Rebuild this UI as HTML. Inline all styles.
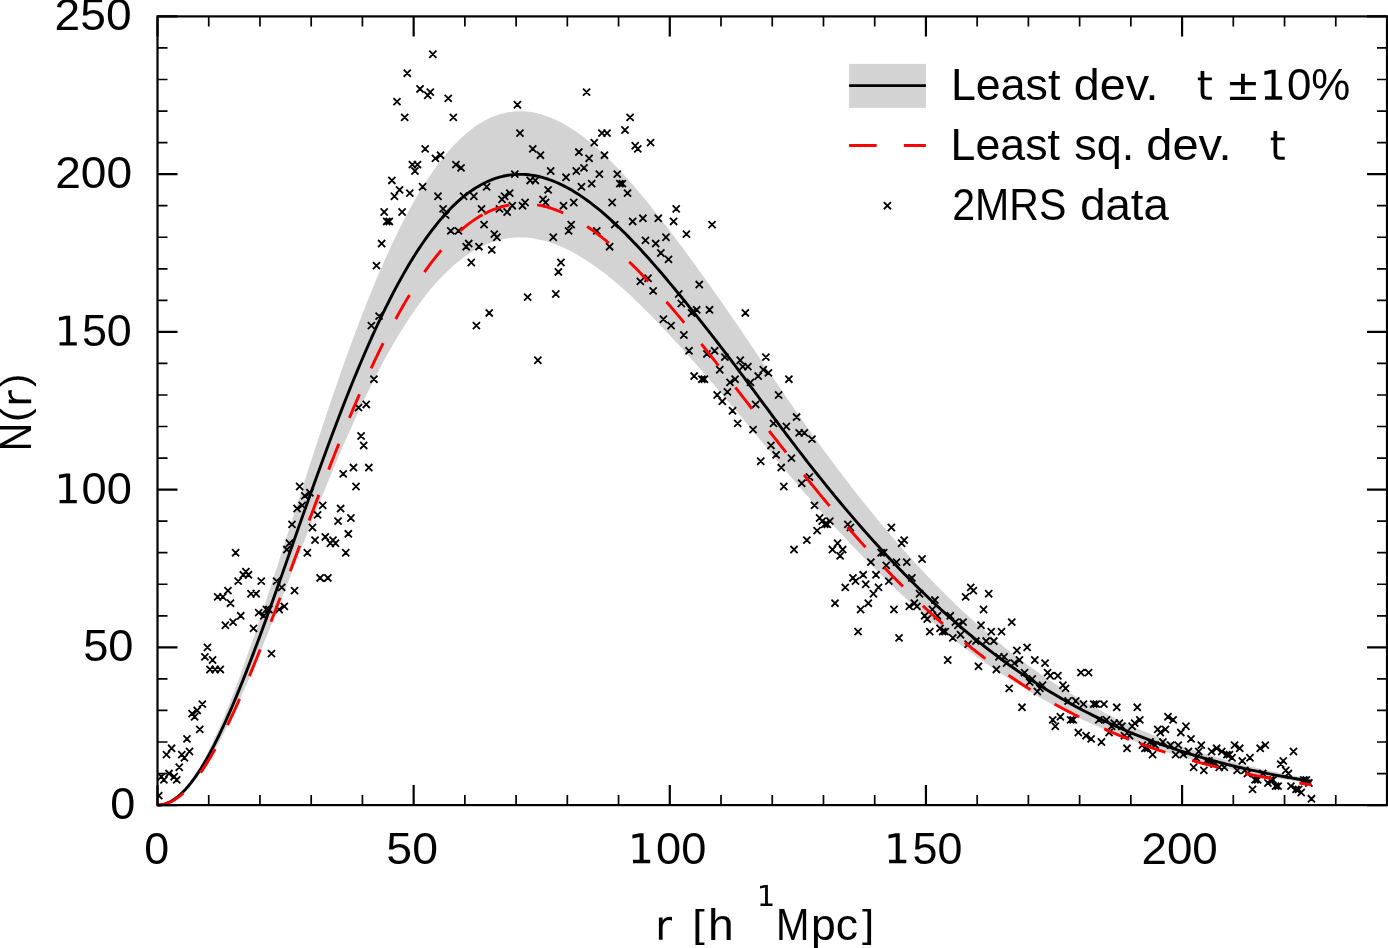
<!DOCTYPE html>
<html><head><meta charset="utf-8"><title>N(r)</title>
<style>
html,body{margin:0;padding:0;background:#fff;}
body{width:1388px;height:948px;overflow:hidden;}
svg{display:block;}
text{font-family:"Liberation Sans",sans-serif;fill:#000;}
</style></head><body>
<svg width="1388" height="948" viewBox="0 0 1388 948">
<rect x="0" y="0" width="1388" height="948" fill="#fff"/>
<defs><clipPath id="ax"><rect x="157.5" y="16.4" width="1229.5" height="788.7"/></clipPath></defs>
<polygon points="157.50,805.10 160.06,804.95 162.62,804.50 165.18,803.74 167.73,802.70 170.29,801.36 172.85,799.74 175.41,797.85 177.97,795.67 180.53,793.23 183.09,790.53 185.64,787.56 188.20,784.35 190.76,780.90 193.32,777.20 195.88,773.28 198.44,769.13 201.00,764.76 203.56,760.18 206.11,755.40 208.67,750.41 211.23,745.24 213.79,739.88 216.35,734.34 218.91,728.63 221.47,722.75 224.02,716.72 226.58,710.53 229.14,704.20 231.70,697.74 234.26,691.13 236.82,684.41 239.38,677.56 241.93,670.60 244.49,663.54 247.05,656.37 249.61,649.11 252.17,641.77 254.73,634.34 257.29,626.83 259.84,619.26 262.40,611.61 264.96,603.92 267.52,596.16 270.08,588.36 272.64,580.52 275.20,572.64 277.76,564.73 280.31,556.79 282.87,548.83 285.43,540.86 287.99,532.87 290.55,524.88 293.11,516.88 295.67,508.89 298.22,500.90 300.78,492.93 303.34,484.97 305.90,477.03 308.46,469.11 311.02,461.23 313.58,453.37 316.13,445.55 318.69,437.77 321.25,430.03 323.81,422.34 326.37,414.70 328.93,407.11 331.49,399.58 334.04,392.10 336.60,384.69 339.16,377.35 341.72,370.07 344.28,362.86 346.84,355.73 349.40,348.67 351.96,341.69 354.51,334.79 357.07,327.98 359.63,321.25 362.19,314.61 364.75,308.06 367.31,301.59 369.87,295.23 372.42,288.95 374.98,282.78 377.54,276.70 380.10,270.72 382.66,264.84 385.22,259.06 387.78,253.39 390.33,247.82 392.89,242.36 395.45,237.01 398.01,231.76 400.57,226.62 403.13,221.60 405.69,216.68 408.24,211.87 410.80,207.18 413.36,202.60 415.92,198.13 418.48,193.77 421.04,189.53 423.60,185.40 426.15,181.39 428.71,177.49 431.27,173.71 433.83,170.04 436.39,166.48 438.95,163.04 441.51,159.72 444.07,156.51 446.62,153.41 449.18,150.43 451.74,147.56 454.30,144.81 456.86,142.17 459.42,139.64 461.98,137.23 464.53,134.92 467.09,132.73 469.65,130.65 472.21,128.68 474.77,126.82 477.33,125.07 479.89,123.43 482.44,121.90 485.00,120.47 487.56,119.15 490.12,117.93 492.68,116.82 495.24,115.82 497.80,114.91 500.35,114.11 502.91,113.41 505.47,112.81 508.03,112.31 510.59,111.91 513.15,111.61 515.71,111.40 518.27,111.28 520.82,111.26 523.38,111.34 525.94,111.50 528.50,111.76 531.06,112.11 533.62,112.54 536.18,113.06 538.73,113.67 541.29,114.36 543.85,115.14 546.41,116.00 548.97,116.94 551.53,117.96 554.09,119.06 556.64,120.24 559.20,121.50 561.76,122.83 564.32,124.23 566.88,125.71 569.44,127.26 572.00,128.88 574.55,130.57 577.11,132.32 579.67,134.15 582.23,136.03 584.79,137.99 587.35,140.00 589.91,142.08 592.47,144.22 595.02,146.41 597.58,148.67 600.14,150.98 602.70,153.34 605.26,155.76 607.82,158.24 610.38,160.76 612.93,163.34 615.49,165.96 618.05,168.63 620.61,171.35 623.17,174.11 625.73,176.92 628.29,179.77 630.84,182.66 633.40,185.59 635.96,188.56 638.52,191.57 641.08,194.61 643.64,197.69 646.20,200.80 648.75,203.94 651.31,207.12 653.87,210.32 656.43,213.55 658.99,216.81 661.55,220.09 664.11,223.40 666.67,226.73 669.22,230.08 671.78,233.45 674.34,236.84 676.90,240.25 679.46,243.67 682.02,247.12 684.58,250.58 687.13,254.05 689.69,257.54 692.25,261.04 694.81,264.56 697.37,268.09 699.93,271.63 702.49,275.19 705.04,278.75 707.60,282.34 710.16,285.93 712.72,289.54 715.28,293.16 717.84,296.80 720.40,300.45 722.95,304.11 725.51,307.79 728.07,311.48 730.63,315.18 733.19,318.90 735.75,322.63 738.31,326.37 740.87,330.12 743.42,333.88 745.98,337.65 748.54,341.42 751.10,345.21 753.66,349.00 756.22,352.79 758.78,356.59 761.33,360.39 763.89,364.19 766.45,367.98 769.01,371.77 771.57,375.56 774.13,379.34 776.69,383.12 779.24,386.88 781.80,390.64 784.36,394.38 786.92,398.12 789.48,401.83 792.04,405.54 794.60,409.23 797.15,412.91 799.71,416.57 802.27,420.21 804.83,423.84 807.39,427.45 809.95,431.05 812.51,434.63 815.06,438.19 817.62,441.73 820.18,445.25 822.74,448.76 825.30,452.25 827.86,455.72 830.42,459.18 832.98,462.62 835.53,466.03 838.09,469.44 840.65,472.82 843.21,476.18 845.77,479.53 848.33,482.86 850.89,486.17 853.44,489.46 856.00,492.73 858.56,495.98 861.12,499.21 863.68,502.43 866.24,505.62 868.80,508.80 871.35,511.96 873.91,515.09 876.47,518.21 879.03,521.31 881.59,524.38 884.15,527.44 886.71,530.47 889.26,533.49 891.82,536.48 894.38,539.46 896.94,542.41 899.50,545.34 902.06,548.25 904.62,551.14 907.18,554.01 909.73,556.86 912.29,559.69 914.85,562.49 917.41,565.28 919.97,568.04 922.53,570.78 925.09,573.50 927.64,576.20 930.20,578.87 932.76,581.53 935.32,584.16 937.88,586.77 940.44,589.36 943.00,591.93 945.55,594.47 948.11,597.00 950.67,599.50 953.23,601.98 955.79,604.44 958.35,606.88 960.91,609.30 963.46,611.69 966.02,614.07 968.58,616.42 971.14,618.75 973.70,621.06 976.26,623.35 978.82,625.62 981.38,627.86 983.93,630.09 986.49,632.29 989.05,634.47 991.61,636.63 994.17,638.77 996.73,640.89 999.29,642.99 1001.84,645.07 1004.40,647.13 1006.96,649.17 1009.52,651.19 1012.08,653.18 1014.64,655.16 1017.20,657.12 1019.75,659.05 1022.31,660.97 1024.87,662.87 1027.43,664.74 1029.99,666.60 1032.55,668.44 1035.11,670.26 1037.66,672.05 1040.22,673.83 1042.78,675.60 1045.34,677.34 1047.90,679.06 1050.46,680.76 1053.02,682.45 1055.58,684.12 1058.13,685.77 1060.69,687.40 1063.25,689.01 1065.81,690.60 1068.37,692.18 1070.93,693.74 1073.49,695.28 1076.04,696.80 1078.60,698.31 1081.16,699.80 1083.72,701.27 1086.28,702.72 1088.84,704.16 1091.40,705.58 1093.95,706.98 1096.51,708.37 1099.07,709.74 1101.63,711.10 1104.19,712.43 1106.75,713.76 1109.31,715.06 1111.86,716.35 1114.42,717.63 1116.98,718.89 1119.54,720.13 1122.10,721.36 1124.66,722.58 1127.22,723.78 1129.78,724.96 1132.33,726.13 1134.89,727.28 1137.45,728.42 1140.01,729.55 1142.57,730.66 1145.13,731.76 1147.69,732.85 1150.24,733.92 1152.80,734.97 1155.36,736.02 1157.92,737.05 1160.48,738.06 1163.04,739.07 1165.60,740.06 1168.15,741.03 1170.71,742.00 1173.27,742.95 1175.83,743.89 1178.39,744.82 1180.95,745.73 1183.51,746.64 1186.06,747.53 1188.62,748.41 1191.18,749.27 1193.74,750.13 1196.30,750.97 1198.86,751.81 1201.42,752.63 1203.97,753.44 1206.53,754.24 1209.09,755.03 1211.65,755.80 1214.21,756.57 1216.77,757.33 1219.33,758.07 1221.89,758.81 1224.44,759.53 1227.00,760.25 1229.56,760.96 1232.12,761.65 1234.68,762.34 1237.24,763.01 1239.80,763.68 1242.35,764.34 1244.91,764.99 1247.47,765.62 1250.03,766.25 1252.59,766.88 1255.15,767.49 1257.71,768.09 1260.26,768.68 1262.82,769.27 1265.38,769.85 1267.94,770.42 1270.50,770.98 1273.06,771.53 1275.62,772.08 1278.17,772.61 1280.73,773.14 1283.29,773.66 1285.85,774.18 1288.41,774.68 1290.97,775.18 1293.53,775.67 1296.09,776.16 1298.64,776.63 1301.20,777.10 1303.76,777.56 1306.32,778.02 1308.88,778.47 1311.44,778.91 1311.44,783.67 1308.88,783.31 1306.32,782.94 1303.76,782.57 1301.20,782.19 1298.64,781.81 1296.09,781.42 1293.53,781.02 1290.97,780.62 1288.41,780.21 1285.85,779.80 1283.29,779.38 1280.73,778.95 1278.17,778.52 1275.62,778.08 1273.06,777.63 1270.50,777.18 1267.94,776.72 1265.38,776.26 1262.82,775.79 1260.26,775.31 1257.71,774.82 1255.15,774.33 1252.59,773.83 1250.03,773.32 1247.47,772.80 1244.91,772.28 1242.35,771.75 1239.80,771.21 1237.24,770.67 1234.68,770.11 1232.12,769.55 1229.56,768.98 1227.00,768.40 1224.44,767.82 1221.89,767.23 1219.33,766.62 1216.77,766.01 1214.21,765.39 1211.65,764.77 1209.09,764.13 1206.53,763.48 1203.97,762.83 1201.42,762.17 1198.86,761.50 1196.30,760.81 1193.74,760.12 1191.18,759.42 1188.62,758.71 1186.06,757.99 1183.51,757.27 1180.95,756.53 1178.39,755.78 1175.83,755.02 1173.27,754.25 1170.71,753.47 1168.15,752.68 1165.60,751.88 1163.04,751.07 1160.48,750.25 1157.92,749.42 1155.36,748.58 1152.80,747.72 1150.24,746.86 1147.69,745.98 1145.13,745.10 1142.57,744.20 1140.01,743.29 1137.45,742.37 1134.89,741.43 1132.33,740.49 1129.78,739.53 1127.22,738.56 1124.66,737.58 1122.10,736.59 1119.54,735.58 1116.98,734.56 1114.42,733.53 1111.86,732.49 1109.31,731.43 1106.75,730.36 1104.19,729.28 1101.63,728.19 1099.07,727.08 1096.51,725.96 1093.95,724.82 1091.40,723.67 1088.84,722.51 1086.28,721.34 1083.72,720.15 1081.16,718.94 1078.60,717.72 1076.04,716.49 1073.49,715.25 1070.93,713.98 1068.37,712.71 1065.81,711.42 1063.25,710.12 1060.69,708.80 1058.13,707.46 1055.58,706.11 1053.02,704.75 1050.46,703.37 1047.90,701.98 1045.34,700.57 1042.78,699.14 1040.22,697.70 1037.66,696.24 1035.11,694.77 1032.55,693.29 1029.99,691.78 1027.43,690.26 1024.87,688.73 1022.31,687.17 1019.75,685.61 1017.20,684.02 1014.64,682.42 1012.08,680.80 1009.52,679.17 1006.96,677.52 1004.40,675.85 1001.84,674.17 999.29,672.47 996.73,670.75 994.17,669.02 991.61,667.26 989.05,665.50 986.49,663.71 983.93,661.91 981.38,660.09 978.82,658.25 976.26,656.39 973.70,654.52 971.14,652.63 968.58,650.72 966.02,648.80 963.46,646.86 960.91,644.90 958.35,642.92 955.79,640.93 953.23,638.91 950.67,636.88 948.11,634.84 945.55,632.77 943.00,630.69 940.44,628.59 937.88,626.47 935.32,624.33 932.76,622.18 930.20,620.00 927.64,617.81 925.09,615.61 922.53,613.38 919.97,611.14 917.41,608.88 914.85,606.60 912.29,604.31 909.73,601.99 907.18,599.66 904.62,597.32 902.06,594.95 899.50,592.57 896.94,590.17 894.38,587.76 891.82,585.32 889.26,582.87 886.71,580.41 884.15,577.92 881.59,575.42 879.03,572.90 876.47,570.37 873.91,567.82 871.35,565.25 868.80,562.67 866.24,560.07 863.68,557.46 861.12,554.83 858.56,552.18 856.00,549.52 853.44,546.85 850.89,544.15 848.33,541.45 845.77,538.72 843.21,535.99 840.65,533.23 838.09,530.47 835.53,527.68 832.98,524.89 830.42,522.07 827.86,519.25 825.30,516.41 822.74,513.55 820.18,510.68 817.62,507.80 815.06,504.90 812.51,501.98 809.95,499.06 807.39,496.12 804.83,493.16 802.27,490.19 799.71,487.21 797.15,484.22 794.60,481.21 792.04,478.19 789.48,475.16 786.92,472.11 784.36,469.06 781.80,466.00 779.24,462.92 776.69,459.84 774.13,456.75 771.57,453.66 769.01,450.56 766.45,447.46 763.89,444.35 761.33,441.24 758.78,438.14 756.22,435.03 753.66,431.93 751.10,428.83 748.54,425.73 745.98,422.64 743.42,419.55 740.87,416.48 738.31,413.41 735.75,410.35 733.19,407.30 730.63,404.26 728.07,401.23 725.51,398.21 722.95,395.20 720.40,392.20 717.84,389.22 715.28,386.24 712.72,383.28 710.16,380.33 707.60,377.38 705.04,374.45 702.49,371.53 699.93,368.62 697.37,365.73 694.81,362.84 692.25,359.96 689.69,357.09 687.13,354.24 684.58,351.40 682.02,348.57 679.46,345.75 676.90,342.95 674.34,340.16 671.78,337.38 669.22,334.63 666.67,331.88 664.11,329.16 661.55,326.46 658.99,323.77 656.43,321.10 653.87,318.46 651.31,315.84 648.75,313.24 646.20,310.67 643.64,308.13 641.08,305.61 638.52,303.12 635.96,300.66 633.40,298.23 630.84,295.83 628.29,293.47 625.73,291.14 623.17,288.84 620.61,286.58 618.05,284.35 615.49,282.17 612.93,280.02 610.38,277.91 607.82,275.85 605.26,273.83 602.70,271.85 600.14,269.91 597.58,268.02 595.02,266.17 592.47,264.38 589.91,262.63 587.35,260.93 584.79,259.28 582.23,257.68 579.67,256.14 577.11,254.65 574.55,253.21 572.00,251.83 569.44,250.50 566.88,249.23 564.32,248.03 561.76,246.88 559.20,245.79 556.64,244.76 554.09,243.80 551.53,242.90 548.97,242.06 546.41,241.29 543.85,240.59 541.29,239.95 538.73,239.38 536.18,238.89 533.62,238.46 531.06,238.10 528.50,237.82 525.94,237.61 523.38,237.48 520.82,237.42 518.27,237.43 515.71,237.52 513.15,237.70 510.59,237.94 508.03,238.27 505.47,238.68 502.91,239.17 500.35,239.75 497.80,240.40 495.24,241.14 492.68,241.96 490.12,242.87 487.56,243.87 485.00,244.95 482.44,246.11 479.89,247.37 477.33,248.71 474.77,250.15 472.21,251.67 469.65,253.28 467.09,254.98 464.53,256.77 461.98,258.66 459.42,260.63 456.86,262.70 454.30,264.86 451.74,267.11 449.18,269.46 446.62,271.90 444.07,274.43 441.51,277.06 438.95,279.78 436.39,282.60 433.83,285.50 431.27,288.51 428.71,291.60 426.15,294.79 423.60,298.08 421.04,301.45 418.48,304.92 415.92,308.49 413.36,312.14 410.80,315.89 408.24,319.73 405.69,323.67 403.13,327.69 400.57,331.80 398.01,336.01 395.45,340.30 392.89,344.68 390.33,349.15 387.78,353.70 385.22,358.34 382.66,363.07 380.10,367.88 377.54,372.77 374.98,377.74 372.42,382.80 369.87,387.93 367.31,393.14 364.75,398.43 362.19,403.79 359.63,409.22 357.07,414.73 354.51,420.30 351.96,425.95 349.40,431.66 346.84,437.43 344.28,443.27 341.72,449.16 339.16,455.12 336.60,461.13 334.04,467.19 331.49,473.31 328.93,479.47 326.37,485.68 323.81,491.93 321.25,498.22 318.69,504.56 316.13,510.92 313.58,517.32 311.02,523.75 308.46,530.20 305.90,536.68 303.34,543.17 300.78,549.69 298.22,556.21 295.67,562.75 293.11,569.29 290.55,575.83 287.99,582.37 285.43,588.90 282.87,595.43 280.31,601.94 277.76,608.43 275.20,614.91 272.64,621.35 270.08,627.77 267.52,634.15 264.96,640.49 262.40,646.79 259.84,653.05 257.29,659.24 254.73,665.38 252.17,671.46 249.61,677.48 247.05,683.41 244.49,689.28 241.93,695.06 239.38,700.75 236.82,706.35 234.26,711.86 231.70,717.26 229.14,722.55 226.58,727.73 224.02,732.79 221.47,737.73 218.91,742.53 216.35,747.20 213.79,751.74 211.23,756.12 208.67,760.36 206.11,764.43 203.56,768.35 201.00,772.10 198.44,775.67 195.88,779.06 193.32,782.28 190.76,785.30 188.20,788.13 185.64,790.75 183.09,793.18 180.53,795.39 177.97,797.39 175.41,799.16 172.85,800.72 170.29,802.04 167.73,803.14 165.18,803.99 162.62,804.61 160.06,804.98 157.50,805.10" fill="#d3d3d3" stroke="none"/>
<g clip-path="url(#ax)"><path d="M155.23,792.09l7.1,7.1m-7.1,0l7.1,-7.1M157.79,773.16l7.1,7.1m-7.1,0l7.1,-7.1M160.35,776.31l7.1,7.1m-7.1,0l7.1,-7.1M162.92,751.07l7.1,7.1m-7.1,0l7.1,-7.1M165.48,770.00l7.1,7.1m-7.1,0l7.1,-7.1M168.04,744.76l7.1,7.1m-7.1,0l7.1,-7.1M170.60,773.16l7.1,7.1m-7.1,0l7.1,-7.1M173.16,776.31l7.1,7.1m-7.1,0l7.1,-7.1M175.72,763.69l7.1,7.1m-7.1,0l7.1,-7.1M178.28,751.07l7.1,7.1m-7.1,0l7.1,-7.1M180.85,754.23l7.1,7.1m-7.1,0l7.1,-7.1M183.41,735.30l7.1,7.1m-7.1,0l7.1,-7.1M185.97,747.92l7.1,7.1m-7.1,0l7.1,-7.1M188.53,710.06l7.1,7.1m-7.1,0l7.1,-7.1M191.09,713.22l7.1,7.1m-7.1,0l7.1,-7.1M193.65,706.91l7.1,7.1m-7.1,0l7.1,-7.1M196.21,725.83l7.1,7.1m-7.1,0l7.1,-7.1M198.78,700.60l7.1,7.1m-7.1,0l7.1,-7.1M201.34,653.27l7.1,7.1m-7.1,0l7.1,-7.1M203.90,643.81l7.1,7.1m-7.1,0l7.1,-7.1M206.46,665.89l7.1,7.1m-7.1,0l7.1,-7.1M209.02,656.43l7.1,7.1m-7.1,0l7.1,-7.1M211.58,665.89l7.1,7.1m-7.1,0l7.1,-7.1M214.14,593.33l7.1,7.1m-7.1,0l7.1,-7.1M216.71,665.89l7.1,7.1m-7.1,0l7.1,-7.1M219.27,593.33l7.1,7.1m-7.1,0l7.1,-7.1M221.83,621.73l7.1,7.1m-7.1,0l7.1,-7.1M224.39,587.02l7.1,7.1m-7.1,0l7.1,-7.1M226.95,599.64l7.1,7.1m-7.1,0l7.1,-7.1M229.51,618.57l7.1,7.1m-7.1,0l7.1,-7.1M232.07,549.17l7.1,7.1m-7.1,0l7.1,-7.1M234.64,577.56l7.1,7.1m-7.1,0l7.1,-7.1M237.20,612.26l7.1,7.1m-7.1,0l7.1,-7.1M239.76,571.25l7.1,7.1m-7.1,0l7.1,-7.1M242.32,568.09l7.1,7.1m-7.1,0l7.1,-7.1M244.88,571.25l7.1,7.1m-7.1,0l7.1,-7.1M247.44,590.18l7.1,7.1m-7.1,0l7.1,-7.1M250.00,624.88l7.1,7.1m-7.1,0l7.1,-7.1M252.57,590.18l7.1,7.1m-7.1,0l7.1,-7.1M255.13,609.11l7.1,7.1m-7.1,0l7.1,-7.1M257.69,577.56l7.1,7.1m-7.1,0l7.1,-7.1M260.25,612.26l7.1,7.1m-7.1,0l7.1,-7.1M262.81,605.95l7.1,7.1m-7.1,0l7.1,-7.1M265.37,605.95l7.1,7.1m-7.1,0l7.1,-7.1M267.93,650.12l7.1,7.1m-7.1,0l7.1,-7.1M273.06,577.56l7.1,7.1m-7.1,0l7.1,-7.1M275.62,605.95l7.1,7.1m-7.1,0l7.1,-7.1M278.18,583.87l7.1,7.1m-7.1,0l7.1,-7.1M280.74,602.80l7.1,7.1m-7.1,0l7.1,-7.1M283.30,546.01l7.1,7.1m-7.1,0l7.1,-7.1M285.87,539.70l7.1,7.1m-7.1,0l7.1,-7.1M288.43,520.77l7.1,7.1m-7.1,0l7.1,-7.1M290.99,587.02l7.1,7.1m-7.1,0l7.1,-7.1M293.55,505.00l7.1,7.1m-7.1,0l7.1,-7.1M296.11,482.92l7.1,7.1m-7.1,0l7.1,-7.1M298.67,501.84l7.1,7.1m-7.1,0l7.1,-7.1M301.23,492.38l7.1,7.1m-7.1,0l7.1,-7.1M303.80,549.17l7.1,7.1m-7.1,0l7.1,-7.1M306.36,489.22l7.1,7.1m-7.1,0l7.1,-7.1M308.92,523.93l7.1,7.1m-7.1,0l7.1,-7.1M311.48,536.55l7.1,7.1m-7.1,0l7.1,-7.1M314.04,511.31l7.1,7.1m-7.1,0l7.1,-7.1M316.60,574.40l7.1,7.1m-7.1,0l7.1,-7.1M319.16,501.84l7.1,7.1m-7.1,0l7.1,-7.1M321.73,533.39l7.1,7.1m-7.1,0l7.1,-7.1M324.29,574.40l7.1,7.1m-7.1,0l7.1,-7.1M326.85,539.70l7.1,7.1m-7.1,0l7.1,-7.1M329.41,536.55l7.1,7.1m-7.1,0l7.1,-7.1M331.97,539.70l7.1,7.1m-7.1,0l7.1,-7.1M334.53,517.62l7.1,7.1m-7.1,0l7.1,-7.1M337.09,505.00l7.1,7.1m-7.1,0l7.1,-7.1M339.66,470.30l7.1,7.1m-7.1,0l7.1,-7.1M342.22,549.17l7.1,7.1m-7.1,0l7.1,-7.1M344.78,530.24l7.1,7.1m-7.1,0l7.1,-7.1M347.34,514.46l7.1,7.1m-7.1,0l7.1,-7.1M349.90,463.99l7.1,7.1m-7.1,0l7.1,-7.1M352.46,482.92l7.1,7.1m-7.1,0l7.1,-7.1M355.02,404.05l7.1,7.1m-7.1,0l7.1,-7.1M357.59,432.44l7.1,7.1m-7.1,0l7.1,-7.1M360.15,441.90l7.1,7.1m-7.1,0l7.1,-7.1M362.71,400.89l7.1,7.1m-7.1,0l7.1,-7.1M365.27,463.99l7.1,7.1m-7.1,0l7.1,-7.1M367.83,322.02l7.1,7.1m-7.1,0l7.1,-7.1M370.39,375.65l7.1,7.1m-7.1,0l7.1,-7.1M372.95,262.08l7.1,7.1m-7.1,0l7.1,-7.1M375.52,312.56l7.1,7.1m-7.1,0l7.1,-7.1M378.08,240.00l7.1,7.1m-7.1,0l7.1,-7.1M380.64,208.45l7.1,7.1m-7.1,0l7.1,-7.1M383.20,217.91l7.1,7.1m-7.1,0l7.1,-7.1M385.76,217.91l7.1,7.1m-7.1,0l7.1,-7.1M388.32,176.90l7.1,7.1m-7.1,0l7.1,-7.1M390.88,192.67l7.1,7.1m-7.1,0l7.1,-7.1M393.45,98.03l7.1,7.1m-7.1,0l7.1,-7.1M396.01,186.36l7.1,7.1m-7.1,0l7.1,-7.1M398.57,208.45l7.1,7.1m-7.1,0l7.1,-7.1M401.13,113.80l7.1,7.1m-7.1,0l7.1,-7.1M403.69,69.64l7.1,7.1m-7.1,0l7.1,-7.1M406.25,189.52l7.1,7.1m-7.1,0l7.1,-7.1M408.82,161.13l7.1,7.1m-7.1,0l7.1,-7.1M411.38,167.44l7.1,7.1m-7.1,0l7.1,-7.1M413.94,161.13l7.1,7.1m-7.1,0l7.1,-7.1M416.50,85.41l7.1,7.1m-7.1,0l7.1,-7.1M419.06,183.21l7.1,7.1m-7.1,0l7.1,-7.1M421.62,145.35l7.1,7.1m-7.1,0l7.1,-7.1M424.18,91.72l7.1,7.1m-7.1,0l7.1,-7.1M426.75,88.57l7.1,7.1m-7.1,0l7.1,-7.1M429.31,50.71l7.1,7.1m-7.1,0l7.1,-7.1M431.87,154.82l7.1,7.1m-7.1,0l7.1,-7.1M434.43,192.67l7.1,7.1m-7.1,0l7.1,-7.1M436.99,151.66l7.1,7.1m-7.1,0l7.1,-7.1M439.55,205.29l7.1,7.1m-7.1,0l7.1,-7.1M442.11,211.60l7.1,7.1m-7.1,0l7.1,-7.1M444.68,94.87l7.1,7.1m-7.1,0l7.1,-7.1M447.24,227.38l7.1,7.1m-7.1,0l7.1,-7.1M449.80,113.80l7.1,7.1m-7.1,0l7.1,-7.1M452.36,161.13l7.1,7.1m-7.1,0l7.1,-7.1M454.92,227.38l7.1,7.1m-7.1,0l7.1,-7.1M457.48,164.28l7.1,7.1m-7.1,0l7.1,-7.1M460.04,192.67l7.1,7.1m-7.1,0l7.1,-7.1M462.61,243.15l7.1,7.1m-7.1,0l7.1,-7.1M465.17,240.00l7.1,7.1m-7.1,0l7.1,-7.1M467.73,258.92l7.1,7.1m-7.1,0l7.1,-7.1M470.29,192.67l7.1,7.1m-7.1,0l7.1,-7.1M472.85,322.02l7.1,7.1m-7.1,0l7.1,-7.1M475.41,243.15l7.1,7.1m-7.1,0l7.1,-7.1M477.97,205.29l7.1,7.1m-7.1,0l7.1,-7.1M480.54,221.07l7.1,7.1m-7.1,0l7.1,-7.1M483.10,183.21l7.1,7.1m-7.1,0l7.1,-7.1M485.66,309.40l7.1,7.1m-7.1,0l7.1,-7.1M488.22,246.31l7.1,7.1m-7.1,0l7.1,-7.1M490.78,230.53l7.1,7.1m-7.1,0l7.1,-7.1M493.34,233.69l7.1,7.1m-7.1,0l7.1,-7.1M495.90,205.29l7.1,7.1m-7.1,0l7.1,-7.1M498.47,195.83l7.1,7.1m-7.1,0l7.1,-7.1M501.03,192.67l7.1,7.1m-7.1,0l7.1,-7.1M503.59,208.45l7.1,7.1m-7.1,0l7.1,-7.1M506.15,189.52l7.1,7.1m-7.1,0l7.1,-7.1M508.71,202.14l7.1,7.1m-7.1,0l7.1,-7.1M511.27,170.59l7.1,7.1m-7.1,0l7.1,-7.1M513.83,101.18l7.1,7.1m-7.1,0l7.1,-7.1M516.40,129.58l7.1,7.1m-7.1,0l7.1,-7.1M518.96,202.14l7.1,7.1m-7.1,0l7.1,-7.1M521.52,198.98l7.1,7.1m-7.1,0l7.1,-7.1M524.08,293.63l7.1,7.1m-7.1,0l7.1,-7.1M526.64,176.90l7.1,7.1m-7.1,0l7.1,-7.1M529.20,145.35l7.1,7.1m-7.1,0l7.1,-7.1M531.77,176.90l7.1,7.1m-7.1,0l7.1,-7.1M534.33,356.72l7.1,7.1m-7.1,0l7.1,-7.1M536.89,151.66l7.1,7.1m-7.1,0l7.1,-7.1M539.45,195.83l7.1,7.1m-7.1,0l7.1,-7.1M542.01,198.98l7.1,7.1m-7.1,0l7.1,-7.1M544.57,186.36l7.1,7.1m-7.1,0l7.1,-7.1M547.13,167.44l7.1,7.1m-7.1,0l7.1,-7.1M549.70,233.69l7.1,7.1m-7.1,0l7.1,-7.1M552.26,290.47l7.1,7.1m-7.1,0l7.1,-7.1M554.82,268.39l7.1,7.1m-7.1,0l7.1,-7.1M557.38,258.92l7.1,7.1m-7.1,0l7.1,-7.1M559.94,202.14l7.1,7.1m-7.1,0l7.1,-7.1M562.50,173.74l7.1,7.1m-7.1,0l7.1,-7.1M565.06,227.38l7.1,7.1m-7.1,0l7.1,-7.1M567.63,221.07l7.1,7.1m-7.1,0l7.1,-7.1M570.19,198.98l7.1,7.1m-7.1,0l7.1,-7.1M572.75,167.44l7.1,7.1m-7.1,0l7.1,-7.1M575.31,148.51l7.1,7.1m-7.1,0l7.1,-7.1M577.87,183.21l7.1,7.1m-7.1,0l7.1,-7.1M580.43,164.28l7.1,7.1m-7.1,0l7.1,-7.1M582.99,88.57l7.1,7.1m-7.1,0l7.1,-7.1M585.56,154.82l7.1,7.1m-7.1,0l7.1,-7.1M588.12,180.05l7.1,7.1m-7.1,0l7.1,-7.1M590.68,139.04l7.1,7.1m-7.1,0l7.1,-7.1M593.24,227.38l7.1,7.1m-7.1,0l7.1,-7.1M595.80,170.59l7.1,7.1m-7.1,0l7.1,-7.1M598.36,129.58l7.1,7.1m-7.1,0l7.1,-7.1M600.92,151.66l7.1,7.1m-7.1,0l7.1,-7.1M603.49,129.58l7.1,7.1m-7.1,0l7.1,-7.1M606.05,243.15l7.1,7.1m-7.1,0l7.1,-7.1M608.61,198.98l7.1,7.1m-7.1,0l7.1,-7.1M611.17,221.07l7.1,7.1m-7.1,0l7.1,-7.1M613.73,170.59l7.1,7.1m-7.1,0l7.1,-7.1M616.29,180.05l7.1,7.1m-7.1,0l7.1,-7.1M618.85,180.05l7.1,7.1m-7.1,0l7.1,-7.1M621.42,126.42l7.1,7.1m-7.1,0l7.1,-7.1M623.98,189.52l7.1,7.1m-7.1,0l7.1,-7.1M626.54,113.80l7.1,7.1m-7.1,0l7.1,-7.1M629.10,217.91l7.1,7.1m-7.1,0l7.1,-7.1M631.66,142.20l7.1,7.1m-7.1,0l7.1,-7.1M634.22,145.35l7.1,7.1m-7.1,0l7.1,-7.1M636.78,277.85l7.1,7.1m-7.1,0l7.1,-7.1M639.35,214.76l7.1,7.1m-7.1,0l7.1,-7.1M641.91,236.84l7.1,7.1m-7.1,0l7.1,-7.1M644.47,274.70l7.1,7.1m-7.1,0l7.1,-7.1M647.03,139.04l7.1,7.1m-7.1,0l7.1,-7.1M649.59,287.32l7.1,7.1m-7.1,0l7.1,-7.1M652.15,240.00l7.1,7.1m-7.1,0l7.1,-7.1M654.72,214.76l7.1,7.1m-7.1,0l7.1,-7.1M657.28,249.46l7.1,7.1m-7.1,0l7.1,-7.1M659.84,315.71l7.1,7.1m-7.1,0l7.1,-7.1M662.40,233.69l7.1,7.1m-7.1,0l7.1,-7.1M664.96,255.77l7.1,7.1m-7.1,0l7.1,-7.1M667.52,322.02l7.1,7.1m-7.1,0l7.1,-7.1M670.08,217.91l7.1,7.1m-7.1,0l7.1,-7.1M672.65,205.29l7.1,7.1m-7.1,0l7.1,-7.1M675.21,290.47l7.1,7.1m-7.1,0l7.1,-7.1M677.77,299.94l7.1,7.1m-7.1,0l7.1,-7.1M680.33,331.48l7.1,7.1m-7.1,0l7.1,-7.1M682.89,230.53l7.1,7.1m-7.1,0l7.1,-7.1M685.45,347.26l7.1,7.1m-7.1,0l7.1,-7.1M688.01,309.40l7.1,7.1m-7.1,0l7.1,-7.1M690.58,372.50l7.1,7.1m-7.1,0l7.1,-7.1M693.14,306.25l7.1,7.1m-7.1,0l7.1,-7.1M695.70,281.01l7.1,7.1m-7.1,0l7.1,-7.1M698.26,375.65l7.1,7.1m-7.1,0l7.1,-7.1M700.82,375.65l7.1,7.1m-7.1,0l7.1,-7.1M703.38,350.41l7.1,7.1m-7.1,0l7.1,-7.1M705.94,306.25l7.1,7.1m-7.1,0l7.1,-7.1M708.51,221.07l7.1,7.1m-7.1,0l7.1,-7.1M711.07,347.26l7.1,7.1m-7.1,0l7.1,-7.1M713.63,391.43l7.1,7.1m-7.1,0l7.1,-7.1M716.19,366.19l7.1,7.1m-7.1,0l7.1,-7.1M718.75,397.74l7.1,7.1m-7.1,0l7.1,-7.1M721.31,353.57l7.1,7.1m-7.1,0l7.1,-7.1M723.87,388.27l7.1,7.1m-7.1,0l7.1,-7.1M726.44,378.81l7.1,7.1m-7.1,0l7.1,-7.1M729.00,407.20l7.1,7.1m-7.1,0l7.1,-7.1M731.56,375.65l7.1,7.1m-7.1,0l7.1,-7.1M734.12,419.82l7.1,7.1m-7.1,0l7.1,-7.1M736.68,356.72l7.1,7.1m-7.1,0l7.1,-7.1M739.24,363.03l7.1,7.1m-7.1,0l7.1,-7.1M741.80,309.40l7.1,7.1m-7.1,0l7.1,-7.1M744.37,363.03l7.1,7.1m-7.1,0l7.1,-7.1M746.93,378.81l7.1,7.1m-7.1,0l7.1,-7.1M749.49,426.13l7.1,7.1m-7.1,0l7.1,-7.1M752.05,400.89l7.1,7.1m-7.1,0l7.1,-7.1M754.61,372.50l7.1,7.1m-7.1,0l7.1,-7.1M757.17,457.68l7.1,7.1m-7.1,0l7.1,-7.1M759.73,366.19l7.1,7.1m-7.1,0l7.1,-7.1M762.30,353.57l7.1,7.1m-7.1,0l7.1,-7.1M764.86,369.34l7.1,7.1m-7.1,0l7.1,-7.1M767.42,441.90l7.1,7.1m-7.1,0l7.1,-7.1M769.98,419.82l7.1,7.1m-7.1,0l7.1,-7.1M772.54,451.37l7.1,7.1m-7.1,0l7.1,-7.1M775.10,391.43l7.1,7.1m-7.1,0l7.1,-7.1M777.67,463.99l7.1,7.1m-7.1,0l7.1,-7.1M780.23,482.92l7.1,7.1m-7.1,0l7.1,-7.1M782.79,422.97l7.1,7.1m-7.1,0l7.1,-7.1M785.35,375.65l7.1,7.1m-7.1,0l7.1,-7.1M787.91,454.52l7.1,7.1m-7.1,0l7.1,-7.1M790.47,546.01l7.1,7.1m-7.1,0l7.1,-7.1M793.03,413.51l7.1,7.1m-7.1,0l7.1,-7.1M795.60,429.28l7.1,7.1m-7.1,0l7.1,-7.1M798.16,479.76l7.1,7.1m-7.1,0l7.1,-7.1M800.72,429.28l7.1,7.1m-7.1,0l7.1,-7.1M803.28,536.55l7.1,7.1m-7.1,0l7.1,-7.1M805.84,473.45l7.1,7.1m-7.1,0l7.1,-7.1M808.40,435.59l7.1,7.1m-7.1,0l7.1,-7.1M810.96,501.84l7.1,7.1m-7.1,0l7.1,-7.1M813.53,527.08l7.1,7.1m-7.1,0l7.1,-7.1M816.09,514.46l7.1,7.1m-7.1,0l7.1,-7.1M818.65,517.62l7.1,7.1m-7.1,0l7.1,-7.1M821.21,520.77l7.1,7.1m-7.1,0l7.1,-7.1M823.77,520.77l7.1,7.1m-7.1,0l7.1,-7.1M826.33,517.62l7.1,7.1m-7.1,0l7.1,-7.1M828.89,546.01l7.1,7.1m-7.1,0l7.1,-7.1M831.46,599.64l7.1,7.1m-7.1,0l7.1,-7.1M834.02,539.70l7.1,7.1m-7.1,0l7.1,-7.1M836.58,552.32l7.1,7.1m-7.1,0l7.1,-7.1M839.14,546.01l7.1,7.1m-7.1,0l7.1,-7.1M841.70,583.87l7.1,7.1m-7.1,0l7.1,-7.1M844.26,520.77l7.1,7.1m-7.1,0l7.1,-7.1M846.82,523.93l7.1,7.1m-7.1,0l7.1,-7.1M849.39,574.40l7.1,7.1m-7.1,0l7.1,-7.1M851.95,577.56l7.1,7.1m-7.1,0l7.1,-7.1M854.51,628.04l7.1,7.1m-7.1,0l7.1,-7.1M857.07,605.95l7.1,7.1m-7.1,0l7.1,-7.1M859.63,571.25l7.1,7.1m-7.1,0l7.1,-7.1M862.19,580.71l7.1,7.1m-7.1,0l7.1,-7.1M864.75,599.64l7.1,7.1m-7.1,0l7.1,-7.1M867.32,558.63l7.1,7.1m-7.1,0l7.1,-7.1M869.88,590.18l7.1,7.1m-7.1,0l7.1,-7.1M872.44,571.25l7.1,7.1m-7.1,0l7.1,-7.1M875.00,583.87l7.1,7.1m-7.1,0l7.1,-7.1M877.56,549.17l7.1,7.1m-7.1,0l7.1,-7.1M880.12,549.17l7.1,7.1m-7.1,0l7.1,-7.1M882.68,561.79l7.1,7.1m-7.1,0l7.1,-7.1M885.25,577.56l7.1,7.1m-7.1,0l7.1,-7.1M887.81,523.93l7.1,7.1m-7.1,0l7.1,-7.1M890.37,605.95l7.1,7.1m-7.1,0l7.1,-7.1M892.93,558.63l7.1,7.1m-7.1,0l7.1,-7.1M895.49,634.35l7.1,7.1m-7.1,0l7.1,-7.1M898.05,539.70l7.1,7.1m-7.1,0l7.1,-7.1M900.62,536.55l7.1,7.1m-7.1,0l7.1,-7.1M903.18,558.63l7.1,7.1m-7.1,0l7.1,-7.1M905.74,602.80l7.1,7.1m-7.1,0l7.1,-7.1M908.30,574.40l7.1,7.1m-7.1,0l7.1,-7.1M910.86,599.64l7.1,7.1m-7.1,0l7.1,-7.1M913.42,602.80l7.1,7.1m-7.1,0l7.1,-7.1M915.98,590.18l7.1,7.1m-7.1,0l7.1,-7.1M918.55,555.48l7.1,7.1m-7.1,0l7.1,-7.1M921.11,612.26l7.1,7.1m-7.1,0l7.1,-7.1M923.67,615.42l7.1,7.1m-7.1,0l7.1,-7.1M926.23,628.04l7.1,7.1m-7.1,0l7.1,-7.1M928.79,605.95l7.1,7.1m-7.1,0l7.1,-7.1M931.35,596.49l7.1,7.1m-7.1,0l7.1,-7.1M933.91,612.26l7.1,7.1m-7.1,0l7.1,-7.1M936.48,624.88l7.1,7.1m-7.1,0l7.1,-7.1M939.04,628.04l7.1,7.1m-7.1,0l7.1,-7.1M941.60,628.04l7.1,7.1m-7.1,0l7.1,-7.1M944.16,656.43l7.1,7.1m-7.1,0l7.1,-7.1M946.72,612.26l7.1,7.1m-7.1,0l7.1,-7.1M949.28,634.35l7.1,7.1m-7.1,0l7.1,-7.1M951.84,618.57l7.1,7.1m-7.1,0l7.1,-7.1M954.41,621.73l7.1,7.1m-7.1,0l7.1,-7.1M956.97,631.19l7.1,7.1m-7.1,0l7.1,-7.1M959.53,618.57l7.1,7.1m-7.1,0l7.1,-7.1M962.09,593.33l7.1,7.1m-7.1,0l7.1,-7.1M964.65,640.66l7.1,7.1m-7.1,0l7.1,-7.1M967.21,583.87l7.1,7.1m-7.1,0l7.1,-7.1M969.77,587.02l7.1,7.1m-7.1,0l7.1,-7.1M972.34,637.50l7.1,7.1m-7.1,0l7.1,-7.1M974.90,662.74l7.1,7.1m-7.1,0l7.1,-7.1M977.46,621.73l7.1,7.1m-7.1,0l7.1,-7.1M980.02,605.95l7.1,7.1m-7.1,0l7.1,-7.1M982.58,637.50l7.1,7.1m-7.1,0l7.1,-7.1M985.14,590.18l7.1,7.1m-7.1,0l7.1,-7.1M987.70,628.04l7.1,7.1m-7.1,0l7.1,-7.1M990.27,637.50l7.1,7.1m-7.1,0l7.1,-7.1M992.83,665.89l7.1,7.1m-7.1,0l7.1,-7.1M995.39,653.27l7.1,7.1m-7.1,0l7.1,-7.1M997.95,628.04l7.1,7.1m-7.1,0l7.1,-7.1M1000.51,653.27l7.1,7.1m-7.1,0l7.1,-7.1M1003.07,659.58l7.1,7.1m-7.1,0l7.1,-7.1M1005.63,684.82l7.1,7.1m-7.1,0l7.1,-7.1M1008.20,618.57l7.1,7.1m-7.1,0l7.1,-7.1M1010.76,659.58l7.1,7.1m-7.1,0l7.1,-7.1M1013.32,646.96l7.1,7.1m-7.1,0l7.1,-7.1M1015.88,656.43l7.1,7.1m-7.1,0l7.1,-7.1M1018.44,703.75l7.1,7.1m-7.1,0l7.1,-7.1M1021.00,669.05l7.1,7.1m-7.1,0l7.1,-7.1M1023.57,643.81l7.1,7.1m-7.1,0l7.1,-7.1M1026.13,678.51l7.1,7.1m-7.1,0l7.1,-7.1M1028.69,675.36l7.1,7.1m-7.1,0l7.1,-7.1M1031.25,656.43l7.1,7.1m-7.1,0l7.1,-7.1M1033.81,687.98l7.1,7.1m-7.1,0l7.1,-7.1M1036.37,684.82l7.1,7.1m-7.1,0l7.1,-7.1M1038.93,681.67l7.1,7.1m-7.1,0l7.1,-7.1M1041.50,659.58l7.1,7.1m-7.1,0l7.1,-7.1M1044.06,669.05l7.1,7.1m-7.1,0l7.1,-7.1M1046.62,672.20l7.1,7.1m-7.1,0l7.1,-7.1M1049.18,716.37l7.1,7.1m-7.1,0l7.1,-7.1M1051.74,722.68l7.1,7.1m-7.1,0l7.1,-7.1M1054.30,672.20l7.1,7.1m-7.1,0l7.1,-7.1M1056.86,713.22l7.1,7.1m-7.1,0l7.1,-7.1M1059.43,681.67l7.1,7.1m-7.1,0l7.1,-7.1M1061.99,684.82l7.1,7.1m-7.1,0l7.1,-7.1M1064.55,697.44l7.1,7.1m-7.1,0l7.1,-7.1M1067.11,716.37l7.1,7.1m-7.1,0l7.1,-7.1M1069.67,716.37l7.1,7.1m-7.1,0l7.1,-7.1M1072.23,697.44l7.1,7.1m-7.1,0l7.1,-7.1M1074.79,728.99l7.1,7.1m-7.1,0l7.1,-7.1M1077.36,669.05l7.1,7.1m-7.1,0l7.1,-7.1M1079.92,700.60l7.1,7.1m-7.1,0l7.1,-7.1M1082.48,732.14l7.1,7.1m-7.1,0l7.1,-7.1M1085.04,669.05l7.1,7.1m-7.1,0l7.1,-7.1M1087.60,735.30l7.1,7.1m-7.1,0l7.1,-7.1M1090.16,700.60l7.1,7.1m-7.1,0l7.1,-7.1M1092.72,700.60l7.1,7.1m-7.1,0l7.1,-7.1M1095.29,716.37l7.1,7.1m-7.1,0l7.1,-7.1M1097.85,738.45l7.1,7.1m-7.1,0l7.1,-7.1M1100.41,700.60l7.1,7.1m-7.1,0l7.1,-7.1M1102.97,716.37l7.1,7.1m-7.1,0l7.1,-7.1M1105.53,728.99l7.1,7.1m-7.1,0l7.1,-7.1M1108.09,722.68l7.1,7.1m-7.1,0l7.1,-7.1M1110.65,719.53l7.1,7.1m-7.1,0l7.1,-7.1M1113.22,703.75l7.1,7.1m-7.1,0l7.1,-7.1M1115.78,719.53l7.1,7.1m-7.1,0l7.1,-7.1M1118.34,722.68l7.1,7.1m-7.1,0l7.1,-7.1M1120.90,732.14l7.1,7.1m-7.1,0l7.1,-7.1M1123.46,744.76l7.1,7.1m-7.1,0l7.1,-7.1M1126.02,732.14l7.1,7.1m-7.1,0l7.1,-7.1M1128.58,722.68l7.1,7.1m-7.1,0l7.1,-7.1M1131.15,719.53l7.1,7.1m-7.1,0l7.1,-7.1M1133.71,703.75l7.1,7.1m-7.1,0l7.1,-7.1M1136.27,716.37l7.1,7.1m-7.1,0l7.1,-7.1M1138.83,741.61l7.1,7.1m-7.1,0l7.1,-7.1M1141.39,744.76l7.1,7.1m-7.1,0l7.1,-7.1M1143.95,744.76l7.1,7.1m-7.1,0l7.1,-7.1M1146.52,738.45l7.1,7.1m-7.1,0l7.1,-7.1M1149.08,751.07l7.1,7.1m-7.1,0l7.1,-7.1M1151.64,741.61l7.1,7.1m-7.1,0l7.1,-7.1M1154.20,725.83l7.1,7.1m-7.1,0l7.1,-7.1M1156.76,728.99l7.1,7.1m-7.1,0l7.1,-7.1M1159.32,738.45l7.1,7.1m-7.1,0l7.1,-7.1M1161.88,725.83l7.1,7.1m-7.1,0l7.1,-7.1M1164.45,713.22l7.1,7.1m-7.1,0l7.1,-7.1M1167.01,741.61l7.1,7.1m-7.1,0l7.1,-7.1M1169.57,716.37l7.1,7.1m-7.1,0l7.1,-7.1M1172.13,751.07l7.1,7.1m-7.1,0l7.1,-7.1M1174.69,741.61l7.1,7.1m-7.1,0l7.1,-7.1M1177.25,728.99l7.1,7.1m-7.1,0l7.1,-7.1M1179.81,751.07l7.1,7.1m-7.1,0l7.1,-7.1M1182.38,722.68l7.1,7.1m-7.1,0l7.1,-7.1M1184.94,747.92l7.1,7.1m-7.1,0l7.1,-7.1M1187.50,735.30l7.1,7.1m-7.1,0l7.1,-7.1M1190.06,763.69l7.1,7.1m-7.1,0l7.1,-7.1M1192.62,754.23l7.1,7.1m-7.1,0l7.1,-7.1M1195.18,747.92l7.1,7.1m-7.1,0l7.1,-7.1M1197.74,741.61l7.1,7.1m-7.1,0l7.1,-7.1M1200.31,766.85l7.1,7.1m-7.1,0l7.1,-7.1M1202.87,757.38l7.1,7.1m-7.1,0l7.1,-7.1M1205.43,757.38l7.1,7.1m-7.1,0l7.1,-7.1M1207.99,747.92l7.1,7.1m-7.1,0l7.1,-7.1M1210.55,760.54l7.1,7.1m-7.1,0l7.1,-7.1M1213.11,744.76l7.1,7.1m-7.1,0l7.1,-7.1M1215.67,763.69l7.1,7.1m-7.1,0l7.1,-7.1M1218.24,747.92l7.1,7.1m-7.1,0l7.1,-7.1M1220.80,763.69l7.1,7.1m-7.1,0l7.1,-7.1M1223.36,751.07l7.1,7.1m-7.1,0l7.1,-7.1M1225.92,751.07l7.1,7.1m-7.1,0l7.1,-7.1M1228.48,754.23l7.1,7.1m-7.1,0l7.1,-7.1M1231.04,741.61l7.1,7.1m-7.1,0l7.1,-7.1M1233.60,766.85l7.1,7.1m-7.1,0l7.1,-7.1M1236.17,744.76l7.1,7.1m-7.1,0l7.1,-7.1M1238.73,757.38l7.1,7.1m-7.1,0l7.1,-7.1M1241.29,766.85l7.1,7.1m-7.1,0l7.1,-7.1M1243.85,770.00l7.1,7.1m-7.1,0l7.1,-7.1M1246.41,754.23l7.1,7.1m-7.1,0l7.1,-7.1M1248.97,785.78l7.1,7.1m-7.1,0l7.1,-7.1M1251.53,776.31l7.1,7.1m-7.1,0l7.1,-7.1M1254.10,776.31l7.1,7.1m-7.1,0l7.1,-7.1M1256.66,744.76l7.1,7.1m-7.1,0l7.1,-7.1M1259.22,770.00l7.1,7.1m-7.1,0l7.1,-7.1M1261.78,741.61l7.1,7.1m-7.1,0l7.1,-7.1M1264.34,779.47l7.1,7.1m-7.1,0l7.1,-7.1M1266.90,776.31l7.1,7.1m-7.1,0l7.1,-7.1M1269.47,776.31l7.1,7.1m-7.1,0l7.1,-7.1M1272.03,782.62l7.1,7.1m-7.1,0l7.1,-7.1M1274.59,782.62l7.1,7.1m-7.1,0l7.1,-7.1M1277.15,760.54l7.1,7.1m-7.1,0l7.1,-7.1M1279.71,757.38l7.1,7.1m-7.1,0l7.1,-7.1M1282.27,766.85l7.1,7.1m-7.1,0l7.1,-7.1M1284.83,770.00l7.1,7.1m-7.1,0l7.1,-7.1M1287.40,782.62l7.1,7.1m-7.1,0l7.1,-7.1M1289.96,747.92l7.1,7.1m-7.1,0l7.1,-7.1M1292.52,785.78l7.1,7.1m-7.1,0l7.1,-7.1M1295.08,785.78l7.1,7.1m-7.1,0l7.1,-7.1M1297.64,788.93l7.1,7.1m-7.1,0l7.1,-7.1M1300.20,776.31l7.1,7.1m-7.1,0l7.1,-7.1M1302.76,776.31l7.1,7.1m-7.1,0l7.1,-7.1M1305.33,779.47l7.1,7.1m-7.1,0l7.1,-7.1M1307.89,795.24l7.1,7.1m-7.1,0l7.1,-7.1" stroke="#000" stroke-width="1.8" fill="none"/></g>
<polyline points="157.50,805.10 160.06,804.96 162.62,804.55 165.18,803.87 167.73,802.92 170.29,801.70 172.85,800.23 175.41,798.50 177.97,796.53 180.53,794.31 183.09,791.85 185.64,789.16 188.20,786.24 190.76,783.10 193.32,779.74 195.88,776.17 198.44,772.40 201.00,768.43 203.56,764.26 206.11,759.91 208.67,755.38 211.23,750.68 213.79,745.81 216.35,740.77 218.91,735.58 221.47,730.24 224.02,724.75 226.58,719.13 229.14,713.38 231.70,707.50 234.26,701.49 236.82,695.38 239.38,689.16 241.93,682.83 244.49,676.41 247.05,669.89 249.61,663.29 252.17,656.62 254.73,649.86 257.29,643.04 259.84,636.15 262.40,629.20 264.96,622.20 267.52,615.16 270.08,608.07 272.64,600.94 275.20,593.77 277.76,586.58 280.31,579.37 282.87,572.13 285.43,564.88 287.99,557.62 290.55,550.35 293.11,543.08 295.67,535.82 298.22,528.56 300.78,521.31 303.34,514.07 305.90,506.85 308.46,499.66 311.02,492.49 313.58,485.35 316.13,478.24 318.69,471.16 321.25,464.13 323.81,457.13 326.37,450.19 328.93,443.29 331.49,436.44 334.04,429.65 336.60,422.91 339.16,416.23 341.72,409.62 344.28,403.06 346.84,396.58 349.40,390.16 351.96,383.82 354.51,377.55 357.07,371.35 359.63,365.24 362.19,359.20 364.75,353.24 367.31,347.37 369.87,341.58 372.42,335.87 374.98,330.26 377.54,324.73 380.10,319.30 382.66,313.95 385.22,308.70 387.78,303.55 390.33,298.49 392.89,293.52 395.45,288.65 398.01,283.88 400.57,279.21 403.13,274.64 405.69,270.17 408.24,265.80 410.80,261.54 413.36,257.37 415.92,253.31 418.48,249.35 421.04,245.49 423.60,241.74 426.15,238.09 428.71,234.55 431.27,231.11 433.83,227.77 436.39,224.54 438.95,221.41 441.51,218.39 444.07,215.47 446.62,212.66 449.18,209.95 451.74,207.34 454.30,204.84 456.86,202.43 459.42,200.14 461.98,197.94 464.53,195.85 467.09,193.86 469.65,191.96 472.21,190.17 474.77,188.48 477.33,186.89 479.89,185.40 482.44,184.01 485.00,182.71 487.56,181.51 490.12,180.40 492.68,179.39 495.24,178.48 497.80,177.66 500.35,176.93 502.91,176.29 505.47,175.75 508.03,175.29 510.59,174.93 513.15,174.65 515.71,174.46 518.27,174.36 520.82,174.34 523.38,174.41 525.94,174.56 528.50,174.79 531.06,175.10 533.62,175.50 536.18,175.97 538.73,176.53 541.29,177.16 543.85,177.86 546.41,178.65 548.97,179.50 551.53,180.43 554.09,181.43 556.64,182.50 559.20,183.64 561.76,184.85 564.32,186.13 566.88,187.47 569.44,188.88 572.00,190.35 574.55,191.89 577.11,193.48 579.67,195.14 582.23,196.86 584.79,198.63 587.35,200.47 589.91,202.35 592.47,204.30 595.02,206.29 597.58,208.34 600.14,210.44 602.70,212.60 605.26,214.80 607.82,217.04 610.38,219.34 612.93,221.68 615.49,224.06 618.05,226.49 620.61,228.96 623.17,231.48 625.73,234.03 628.29,236.62 630.84,239.25 633.40,241.91 635.96,244.61 638.52,247.35 641.08,250.11 643.64,252.91 646.20,255.74 648.75,258.59 651.31,261.48 653.87,264.39 656.43,267.33 658.99,270.29 661.55,273.27 664.11,276.28 666.67,279.30 669.22,282.35 671.78,285.42 674.34,288.50 676.90,291.60 679.46,294.71 682.02,297.84 684.58,300.99 687.13,304.14 689.69,307.32 692.25,310.50 694.81,313.70 697.37,316.91 699.93,320.13 702.49,323.36 705.04,326.60 707.60,329.86 710.16,333.13 712.72,336.41 715.28,339.70 717.84,343.01 720.40,346.33 722.95,349.66 725.51,353.00 728.07,356.35 730.63,359.72 733.19,363.10 735.75,366.49 738.31,369.89 740.87,373.30 743.42,376.72 745.98,380.14 748.54,383.58 751.10,387.02 753.66,390.46 756.22,393.91 758.78,397.36 761.33,400.82 763.89,404.27 766.45,407.72 769.01,411.17 771.57,414.61 774.13,418.05 776.69,421.48 779.24,424.90 781.80,428.32 784.36,431.72 786.92,435.11 789.48,438.49 792.04,441.86 794.60,445.22 797.15,448.56 799.71,451.89 802.27,455.20 804.83,458.50 807.39,461.78 809.95,465.05 812.51,468.30 815.06,471.54 817.62,474.76 820.18,477.97 822.74,481.16 825.30,484.33 827.86,487.49 830.42,490.63 832.98,493.75 835.53,496.86 838.09,499.95 840.65,503.03 843.21,506.08 845.77,509.13 848.33,512.15 850.89,515.16 853.44,518.15 856.00,521.13 858.56,524.08 861.12,527.02 863.68,529.94 866.24,532.85 868.80,535.74 871.35,538.61 873.91,541.46 876.47,544.29 879.03,547.10 881.59,549.90 884.15,552.68 886.71,555.44 889.26,558.18 891.82,560.90 894.38,563.61 896.94,566.29 899.50,568.96 902.06,571.60 904.62,574.23 907.18,576.84 909.73,579.43 912.29,582.00 914.85,584.55 917.41,587.08 919.97,589.59 922.53,592.08 925.09,594.55 927.64,597.00 930.20,599.44 932.76,601.85 935.32,604.24 937.88,606.62 940.44,608.97 943.00,611.31 945.55,613.62 948.11,615.92 950.67,618.19 953.23,620.45 955.79,622.68 958.35,624.90 960.91,627.10 963.46,629.28 966.02,631.43 968.58,633.57 971.14,635.69 973.70,637.79 976.26,639.87 978.82,641.93 981.38,643.97 983.93,646.00 986.49,648.00 989.05,649.98 991.61,651.95 994.17,653.89 996.73,655.82 999.29,657.73 1001.84,659.62 1004.40,661.49 1006.96,663.34 1009.52,665.18 1012.08,666.99 1014.64,668.79 1017.20,670.57 1019.75,672.33 1022.31,674.07 1024.87,675.80 1027.43,677.50 1029.99,679.19 1032.55,680.86 1035.11,682.51 1037.66,684.15 1040.22,685.77 1042.78,687.37 1045.34,688.95 1047.90,690.52 1050.46,692.07 1053.02,693.60 1055.58,695.12 1058.13,696.61 1060.69,698.10 1063.25,699.56 1065.81,701.01 1068.37,702.44 1070.93,703.86 1073.49,705.26 1076.04,706.65 1078.60,708.02 1081.16,709.37 1083.72,710.71 1086.28,712.03 1088.84,713.33 1091.40,714.63 1093.95,715.90 1096.51,717.16 1099.07,718.41 1101.63,719.64 1104.19,720.86 1106.75,722.06 1109.31,723.25 1111.86,724.42 1114.42,725.58 1116.98,726.73 1119.54,727.86 1122.10,728.97 1124.66,730.08 1127.22,731.17 1129.78,732.24 1132.33,733.31 1134.89,734.36 1137.45,735.40 1140.01,736.42 1142.57,737.43 1145.13,738.43 1147.69,739.41 1150.24,740.39 1152.80,741.35 1155.36,742.30 1157.92,743.23 1160.48,744.16 1163.04,745.07 1165.60,745.97 1168.15,746.86 1170.71,747.73 1173.27,748.60 1175.83,749.45 1178.39,750.30 1180.95,751.13 1183.51,751.95 1186.06,752.76 1188.62,753.56 1191.18,754.35 1193.74,755.13 1196.30,755.89 1198.86,756.65 1201.42,757.40 1203.97,758.13 1206.53,758.86 1209.09,759.58 1211.65,760.28 1214.21,760.98 1216.77,761.67 1219.33,762.35 1221.89,763.02 1224.44,763.68 1227.00,764.33 1229.56,764.97 1232.12,765.60 1234.68,766.22 1237.24,766.84 1239.80,767.45 1242.35,768.04 1244.91,768.63 1247.47,769.21 1250.03,769.79 1252.59,770.35 1255.15,770.91 1257.71,771.45 1260.26,772.00 1262.82,772.53 1265.38,773.05 1267.94,773.57 1270.50,774.08 1273.06,774.58 1275.62,775.08 1278.17,775.57 1280.73,776.05 1283.29,776.52 1285.85,776.99 1288.41,777.45 1290.97,777.90 1293.53,778.35 1296.09,778.79 1298.64,779.22 1301.20,779.65 1303.76,780.07 1306.32,780.48 1308.88,780.89 1311.44,781.29" fill="none" stroke="#000" stroke-width="2.9" stroke-linejoin="round"/>
<polyline points="157.50,805.10 158.85,805.07 160.20,804.96 161.54,804.79 162.89,804.56 164.24,804.25 165.59,803.88 166.94,803.44 168.29,802.93 169.63,802.36 170.98,801.73 172.33,801.03 173.68,800.27 175.03,799.44 176.37,798.55 177.72,797.60 179.07,796.59 180.42,795.51 181.77,794.38 183.11,793.18" fill="none" stroke="#ff0000" stroke-width="2.9"/>
<polyline points="200.53,772.69 202.00,770.57 203.46,768.39 204.93,766.15 206.39,763.85 207.86,761.50 209.32,759.10 210.79,756.64 212.25,754.13 213.72,751.57 215.18,748.96" fill="none" stroke="#ff0000" stroke-width="2.9"/>
<polyline points="227.48,725.20 229.00,722.06 230.51,718.87 232.03,715.65 233.55,712.38 235.07,709.07 236.59,705.73 238.10,702.34 239.62,698.92" fill="none" stroke="#ff0000" stroke-width="2.9"/>
<polyline points="249.41,676.08 250.95,672.36 252.49,668.61 254.04,664.83 255.58,661.03 257.13,657.20 258.67,653.35 260.21,649.48" fill="none" stroke="#ff0000" stroke-width="2.9"/>
<polyline points="271.02,621.80 272.55,617.82 274.08,613.83 275.61,609.82 277.14,605.80 278.67,601.78 280.19,597.74" fill="none" stroke="#ff0000" stroke-width="2.9"/>
<polyline points="290.18,571.16 291.76,566.94 293.34,562.72 294.92,558.50 296.50,554.27 298.08,550.05 299.66,545.82" fill="none" stroke="#ff0000" stroke-width="2.9"/>
<polyline points="309.14,520.55 310.76,516.24 312.38,511.95 314.01,507.66 315.63,503.38 317.25,499.12 318.87,494.86" fill="none" stroke="#ff0000" stroke-width="2.9"/>
<polyline points="328.61,469.62 330.07,465.87 331.53,462.14 333.00,458.42 334.46,454.71 335.92,451.03 337.39,447.36 338.85,443.70" fill="none" stroke="#ff0000" stroke-width="2.9"/>
<polyline points="349.40,417.90 351.09,413.88 352.77,409.89 354.45,405.93 356.13,402.00 357.81,398.09 359.50,394.22" fill="none" stroke="#ff0000" stroke-width="2.9"/>
<polyline points="371.13,368.30 372.63,365.07 374.14,361.85 375.64,358.67 377.15,355.52 378.65,352.39 380.15,349.29 381.66,346.23 383.16,343.19" fill="none" stroke="#ff0000" stroke-width="2.9"/>
<polyline points="395.72,319.01 397.25,316.20 398.79,313.42 400.33,310.68 401.86,307.96 403.40,305.29 404.94,302.64 406.47,300.03 408.01,297.45 409.55,294.91" fill="none" stroke="#ff0000" stroke-width="2.9"/>
<polyline points="424.40,272.12 425.81,270.13 427.22,268.17 428.63,266.23 430.04,264.33 431.45,262.46 432.86,260.62 434.27,258.81 435.67,257.03 437.08,255.27 438.49,253.55 439.90,251.86 441.31,250.20" fill="none" stroke="#ff0000" stroke-width="2.9"/>
<polyline points="460.26,230.76 461.66,229.55 463.06,228.36 464.45,227.20 465.85,226.07 467.24,224.97 468.64,223.89 470.04,222.85 471.43,221.83 472.83,220.85 474.22,219.89 475.62,218.96 477.02,218.06 478.41,217.19 479.81,216.35 481.20,215.53 482.60,214.74" fill="none" stroke="#ff0000" stroke-width="2.9"/>
<polyline points="484.19,213.88 485.59,213.15 486.99,212.45 488.40,211.77 489.80,211.13 491.20,210.51 492.61,209.92 494.01,209.35 495.41,208.82 496.82,208.31 498.22,207.83 499.62,207.37 501.03,206.95 502.43,206.55 503.83,206.17 505.24,205.83 506.64,205.51 508.04,205.21 509.44,204.94" fill="none" stroke="#ff0000" stroke-width="2.9"/>
<polyline points="537.11,204.82 538.48,205.06 539.86,205.32 541.23,205.60 542.61,205.90 543.98,206.23 545.36,206.58 546.73,206.95 548.11,207.34 549.48,207.75 550.86,208.18 552.23,208.63 553.61,209.10 554.98,209.60 556.36,210.11 557.73,210.64 559.11,211.20 560.48,211.77 561.86,212.36 563.24,212.97" fill="none" stroke="#ff0000" stroke-width="2.9"/>
<polyline points="587.11,226.50 588.56,227.48 590.00,228.49 591.45,229.51 592.90,230.55 594.35,231.61 595.80,232.68 597.24,233.77 598.69,234.88 600.14,236.00 601.59,237.14 603.04,238.30 604.48,239.47 605.93,240.66 607.38,241.86 608.83,243.08" fill="none" stroke="#ff0000" stroke-width="2.9"/>
<polyline points="629.22,261.74 630.68,263.18 632.15,264.64 633.62,266.10 635.08,267.58 636.55,269.07 638.01,270.57 639.48,272.09 640.95,273.61 642.41,275.15 643.88,276.70 645.34,278.25 646.81,279.82 648.28,281.40" fill="none" stroke="#ff0000" stroke-width="2.9"/>
<polyline points="666.46,301.77 667.93,303.47 669.41,305.19 670.88,306.91 672.35,308.64 673.83,310.38 675.30,312.12 676.77,313.87 678.24,315.63 679.72,317.40 681.19,319.17 682.66,320.94 684.14,322.73" fill="none" stroke="#ff0000" stroke-width="2.9"/>
<polyline points="701.30,343.90 702.73,345.69 704.16,347.49 705.59,349.28 707.02,351.09 708.45,352.89 709.88,354.70 711.31,356.52 712.74,358.33 714.17,360.15 715.60,361.97 717.03,363.79 718.46,365.62" fill="none" stroke="#ff0000" stroke-width="2.9"/>
<polyline points="735.37,387.33 736.75,389.12 738.14,390.91 739.53,392.70 740.91,394.50 742.30,396.29 743.69,398.08 745.08,399.87 746.46,401.66 747.85,403.46 749.24,405.25 750.63,407.04 752.01,408.83" fill="none" stroke="#ff0000" stroke-width="2.9"/>
<polyline points="769.18,430.93 770.59,432.74 771.99,434.54 773.40,436.34 774.81,438.14 776.22,439.94 777.63,441.74 779.04,443.53 780.45,445.33 781.86,447.12 783.26,448.91 784.67,450.69 786.08,452.48" fill="none" stroke="#ff0000" stroke-width="2.9"/>
<polyline points="804.01,474.94 805.44,476.70 806.86,478.46 808.28,480.21 809.70,481.96 811.13,483.71 812.55,485.45 813.97,487.19 815.40,488.93 816.82,490.66 818.24,492.39 819.67,494.11 821.09,495.83 822.51,497.55 823.93,499.26 825.36,500.97 826.78,502.67 828.20,504.37 829.63,506.06" fill="none" stroke="#ff0000" stroke-width="2.9"/>
<polyline points="847.56,527.02 848.94,528.60 850.32,530.17 851.69,531.74 853.07,533.31 854.45,534.87 855.83,536.43 857.21,537.98 858.59,539.53 859.97,541.07 861.35,542.61 862.73,544.14 864.11,545.67 865.49,547.19" fill="none" stroke="#ff0000" stroke-width="2.9"/>
<polyline points="884.44,567.58 885.86,569.07 887.28,570.55 888.70,572.03 890.12,573.50 891.54,574.96 892.95,576.42 894.37,577.87 895.79,579.32 897.21,580.76 898.63,582.19 900.05,583.62 901.47,585.04 902.88,586.46" fill="none" stroke="#ff0000" stroke-width="2.9"/>
<polyline points="922.86,605.79 924.29,607.13 925.72,608.46 927.15,609.78 928.57,611.10 930.00,612.41 931.43,613.71 932.85,615.01 934.28,616.31 935.71,617.59 937.13,618.87 938.56,620.15 939.99,621.42 941.42,622.68 942.84,623.94" fill="none" stroke="#ff0000" stroke-width="2.9"/>
<polyline points="964.87,642.56 966.24,643.66 967.60,644.77 968.97,645.86 970.34,646.95 971.70,648.04 973.07,649.12 974.43,650.19 975.80,651.26 977.17,652.32 978.53,653.38 979.90,654.43 981.26,655.48 982.63,656.52 984.00,657.56 985.36,658.59" fill="none" stroke="#ff0000" stroke-width="2.9"/>
<polyline points="1008.42,675.17 1009.79,676.11 1011.17,677.04 1012.55,677.98 1013.92,678.90 1015.30,679.82 1016.68,680.74 1018.05,681.65 1019.43,682.56 1020.81,683.46 1022.18,684.35 1023.56,685.24 1024.94,686.13 1026.31,687.01 1027.69,687.88 1029.07,688.75 1030.45,689.61" fill="none" stroke="#ff0000" stroke-width="2.9"/>
<polyline points="1054.52,703.92 1055.89,704.69 1057.25,705.45 1058.62,706.21 1059.99,706.96 1061.35,707.71 1062.72,708.45 1064.09,709.19 1065.45,709.92 1066.82,710.65 1068.18,711.38 1069.55,712.10 1070.92,712.81 1072.28,713.53 1073.65,714.23 1075.01,714.93 1076.38,715.63 1077.75,716.33 1079.11,717.02" fill="none" stroke="#ff0000" stroke-width="2.9"/>
<polyline points="1104.22,728.91 1105.60,729.52 1106.98,730.13 1108.36,730.74 1109.75,731.34 1111.13,731.94 1112.51,732.53 1113.90,733.12 1115.28,733.71 1116.66,734.29 1118.05,734.87 1119.43,735.44 1120.81,736.01 1122.20,736.58 1123.58,737.14 1124.96,737.70 1126.35,738.25 1127.73,738.80 1129.11,739.35" fill="none" stroke="#ff0000" stroke-width="2.9"/>
<polyline points="1140.08,743.55 1141.48,744.07 1142.89,744.59 1144.30,745.10 1145.71,745.61 1147.12,746.12 1148.53,746.62 1149.94,747.12 1151.35,747.62 1152.75,748.11 1154.16,748.60 1155.57,749.09 1156.98,749.57 1158.39,750.05 1159.80,750.52 1161.21,750.99 1162.62,751.46 1164.03,751.92 1165.43,752.38" fill="none" stroke="#ff0000" stroke-width="2.9"/>
<polyline points="1192.18,760.49 1193.56,760.88 1194.94,761.27 1196.33,761.65 1197.71,762.03 1199.09,762.40 1200.47,762.78 1201.86,763.15 1203.24,763.52 1204.62,763.88 1206.01,764.24 1207.39,764.60 1208.77,764.96 1210.16,765.31 1211.54,765.66 1212.92,766.01 1214.31,766.36 1215.69,766.70 1217.07,767.04 1218.46,767.38" fill="none" stroke="#ff0000" stroke-width="2.9"/>
<polyline points="1245.10,773.38 1246.50,773.68 1247.90,773.96 1249.30,774.25 1250.70,774.53 1252.11,774.82 1253.51,775.10 1254.91,775.37 1256.31,775.65 1257.71,775.92 1259.12,776.19 1260.52,776.46 1261.92,776.72 1263.32,776.99 1264.72,777.25 1266.13,777.51 1267.53,777.77 1268.93,778.02 1270.33,778.27 1271.73,778.52" fill="none" stroke="#ff0000" stroke-width="2.9"/>
<polyline points="1299.40,783.06 1300.90,783.28 1302.41,783.51 1303.91,783.73 1305.42,783.95 1306.92,784.16 1308.43,784.38 1309.93,784.59 1311.44,784.80" fill="none" stroke="#ff0000" stroke-width="2.9"/>
<rect x="157.5" y="16.4" width="1229.5" height="788.7" fill="none" stroke="#000" stroke-width="2.2"/>
<path d="M157.50,805.1v-20M157.50,16.4v20" stroke="#000" stroke-width="2.2"/>
<path d="M208.73,805.1v-10M208.73,16.4v10" stroke="#000" stroke-width="1.7"/>
<path d="M259.96,805.1v-10M259.96,16.4v10" stroke="#000" stroke-width="1.7"/>
<path d="M311.19,805.1v-10M311.19,16.4v10" stroke="#000" stroke-width="1.7"/>
<path d="M362.42,805.1v-10M362.42,16.4v10" stroke="#000" stroke-width="1.7"/>
<path d="M413.65,805.1v-20M413.65,16.4v20" stroke="#000" stroke-width="2.2"/>
<path d="M464.88,805.1v-10M464.88,16.4v10" stroke="#000" stroke-width="1.7"/>
<path d="M516.10,805.1v-10M516.10,16.4v10" stroke="#000" stroke-width="1.7"/>
<path d="M567.33,805.1v-10M567.33,16.4v10" stroke="#000" stroke-width="1.7"/>
<path d="M618.56,805.1v-10M618.56,16.4v10" stroke="#000" stroke-width="1.7"/>
<path d="M669.79,805.1v-20M669.79,16.4v20" stroke="#000" stroke-width="2.2"/>
<path d="M721.02,805.1v-10M721.02,16.4v10" stroke="#000" stroke-width="1.7"/>
<path d="M772.25,805.1v-10M772.25,16.4v10" stroke="#000" stroke-width="1.7"/>
<path d="M823.48,805.1v-10M823.48,16.4v10" stroke="#000" stroke-width="1.7"/>
<path d="M874.71,805.1v-10M874.71,16.4v10" stroke="#000" stroke-width="1.7"/>
<path d="M925.94,805.1v-20M925.94,16.4v20" stroke="#000" stroke-width="2.2"/>
<path d="M977.17,805.1v-10M977.17,16.4v10" stroke="#000" stroke-width="1.7"/>
<path d="M1028.40,805.1v-10M1028.40,16.4v10" stroke="#000" stroke-width="1.7"/>
<path d="M1079.62,805.1v-10M1079.62,16.4v10" stroke="#000" stroke-width="1.7"/>
<path d="M1130.85,805.1v-10M1130.85,16.4v10" stroke="#000" stroke-width="1.7"/>
<path d="M1182.08,805.1v-20M1182.08,16.4v20" stroke="#000" stroke-width="2.2"/>
<path d="M1233.31,805.1v-10M1233.31,16.4v10" stroke="#000" stroke-width="1.7"/>
<path d="M1284.54,805.1v-10M1284.54,16.4v10" stroke="#000" stroke-width="1.7"/>
<path d="M1335.77,805.1v-10M1335.77,16.4v10" stroke="#000" stroke-width="1.7"/>
<path d="M1387.00,805.1v-10M1387.00,16.4v10" stroke="#000" stroke-width="1.7"/>
<path d="M157.5,805.10h20M1387.0,805.10h-20" stroke="#000" stroke-width="2.2"/>
<path d="M157.5,773.55h10M1387.0,773.55h-10" stroke="#000" stroke-width="1.7"/>
<path d="M157.5,742.00h10M1387.0,742.00h-10" stroke="#000" stroke-width="1.7"/>
<path d="M157.5,710.46h10M1387.0,710.46h-10" stroke="#000" stroke-width="1.7"/>
<path d="M157.5,678.91h10M1387.0,678.91h-10" stroke="#000" stroke-width="1.7"/>
<path d="M157.5,647.36h20M1387.0,647.36h-20" stroke="#000" stroke-width="2.2"/>
<path d="M157.5,615.81h10M1387.0,615.81h-10" stroke="#000" stroke-width="1.7"/>
<path d="M157.5,584.26h10M1387.0,584.26h-10" stroke="#000" stroke-width="1.7"/>
<path d="M157.5,552.72h10M1387.0,552.72h-10" stroke="#000" stroke-width="1.7"/>
<path d="M157.5,521.17h10M1387.0,521.17h-10" stroke="#000" stroke-width="1.7"/>
<path d="M157.5,489.62h20M1387.0,489.62h-20" stroke="#000" stroke-width="2.2"/>
<path d="M157.5,458.07h10M1387.0,458.07h-10" stroke="#000" stroke-width="1.7"/>
<path d="M157.5,426.52h10M1387.0,426.52h-10" stroke="#000" stroke-width="1.7"/>
<path d="M157.5,394.98h10M1387.0,394.98h-10" stroke="#000" stroke-width="1.7"/>
<path d="M157.5,363.43h10M1387.0,363.43h-10" stroke="#000" stroke-width="1.7"/>
<path d="M157.5,331.88h20M1387.0,331.88h-20" stroke="#000" stroke-width="2.2"/>
<path d="M157.5,300.33h10M1387.0,300.33h-10" stroke="#000" stroke-width="1.7"/>
<path d="M157.5,268.78h10M1387.0,268.78h-10" stroke="#000" stroke-width="1.7"/>
<path d="M157.5,237.24h10M1387.0,237.24h-10" stroke="#000" stroke-width="1.7"/>
<path d="M157.5,205.69h10M1387.0,205.69h-10" stroke="#000" stroke-width="1.7"/>
<path d="M157.5,174.14h20M1387.0,174.14h-20" stroke="#000" stroke-width="2.2"/>
<path d="M157.5,142.59h10M1387.0,142.59h-10" stroke="#000" stroke-width="1.7"/>
<path d="M157.5,111.04h10M1387.0,111.04h-10" stroke="#000" stroke-width="1.7"/>
<path d="M157.5,79.50h10M1387.0,79.50h-10" stroke="#000" stroke-width="1.7"/>
<path d="M157.5,47.95h10M1387.0,47.95h-10" stroke="#000" stroke-width="1.7"/>
<path d="M157.5,16.40h20M1387.0,16.40h-20" stroke="#000" stroke-width="2.2"/>
<g opacity="0.999">
<text transform="translate(144.21,863.50) scale(1.0256,1)" font-size="43.7">0</text>
<text transform="translate(386.34,863.50) scale(1.0616,1)" font-size="43.7">50</text>
<path d="M632.98,859.80L639.59,859.80L639.59,836.99L632.40,838.44L632.40,834.75L639.55,833.31L643.60,833.31L643.60,859.80L650.20,859.80L650.20,863.20L632.98,863.20Z" fill="#000"/>
<text transform="translate(656.09,863.50) scale(1.0350,1)" font-size="43.7">00</text>
<path d="M889.08,859.80L895.69,859.80L895.69,836.99L888.50,838.44L888.50,834.75L895.65,833.31L899.70,833.31L899.70,859.80L906.30,859.80L906.30,863.20L889.08,863.20Z" fill="#000"/>
<text transform="translate(912.61,863.50) scale(1.0261,1)" font-size="43.7">50</text>
<text transform="translate(1141.41,863.50) scale(1.0486,1)" font-size="43.7">200</text>
<text transform="translate(110.20,819.10) scale(1.0303,1)" font-size="43.7">0</text>
<text transform="translate(83.19,661.36) scale(1.0350,1)" font-size="43.7">50</text>
<text transform="translate(55.19,188.14) scale(1.0558,1)" font-size="43.7">200</text>
<text transform="translate(54.59,30.40) scale(1.0558,1)" font-size="43.7">250</text>
<path d="M59.58,499.92L66.19,499.92L66.19,477.11L59.00,478.56L59.00,474.87L66.15,473.43L70.20,473.43L70.20,499.92L76.80,499.92L76.80,503.32L59.58,503.32Z" fill="#000"/>
<text transform="translate(81.49,503.62) scale(1.0350,1)" font-size="43.7">00</text>
<path d="M59.58,342.18L66.19,342.18L66.19,319.37L59.00,320.82L59.00,317.13L66.15,315.69L70.20,315.69L70.20,342.18L76.80,342.18L76.80,345.58L59.58,345.58Z" fill="#000"/>
<text transform="translate(81.91,345.88) scale(1.0261,1)" font-size="43.7">50</text>
<text transform="translate(31.20,451.24) rotate(-90) scale(0.8989,1)" font-size="43.7">N</text>
<text transform="translate(28.20,421.90) rotate(-90) scale(1.0593,1)" font-size="39.2">(</text>
<path transform="translate(31.2,407.02) rotate(-90)" d="M16.86,-18.98Q16.24,-19.34 15.51,-19.51Q14.77,-19.68 13.89,-19.68Q10.77,-19.68 9.10,-17.65Q7.43,-15.62 7.43,-11.81V0.00H3.72V-22.42H7.43V-18.94Q8.59,-20.98 10.45,-21.97Q12.31,-22.96 14.97,-22.96Q15.35,-22.96 15.82,-22.91Q16.28,-22.86 16.84,-22.76Z" fill="#000"/>
<text transform="translate(28.20,386.89) rotate(-90) scale(1.0010,1)" font-size="39.2">)</text>
<path transform="translate(655.18,939.8)" d="M16.86,-18.98Q16.24,-19.34 15.51,-19.51Q14.77,-19.68 13.89,-19.68Q10.77,-19.68 9.10,-17.65Q7.43,-15.62 7.43,-11.81V0.00H3.72V-22.42H7.43V-18.94Q8.59,-20.98 10.45,-21.97Q12.31,-22.96 14.97,-22.96Q15.35,-22.96 15.82,-22.91Q16.28,-22.86 16.84,-22.76Z" fill="#000"/>
<text transform="translate(692.13,936.80) scale(1.1420,1)" font-size="39.46">[</text>
<text transform="translate(708.07,939.80) scale(1.0570,1)" font-size="43.7">h</text>
<path d="M760.46,903.52L765.08,903.52L765.08,887.56L760.05,888.57L760.05,885.99L765.06,884.98L767.89,884.98L767.89,903.52L772.51,903.52L772.51,905.90L760.46,905.90Z" fill="#000"/>
<text transform="translate(775.89,939.80) scale(0.9188,1)" font-size="43.7">M</text>
<text transform="translate(810.91,939.80) scale(1.0176,1)" font-size="43.7">pc</text>
<text transform="translate(862.07,936.80) scale(1.1151,1)" font-size="39.46">]</text>
</g>
<g opacity="0.999">
<rect x="849.1" y="63.9" width="76.8" height="44" fill="#d3d3d3"/>
<path d="M849.1,85.6H925.9" stroke="#000" stroke-width="2.9"/>
<path d="M849.1,145.5H876.7M903.9,145.5H925.9" stroke="#f00" stroke-width="2.9"/>
<path d="M883.85,202.15l7.1,7.1m-7.1,0l7.1,-7.1" stroke="#000" stroke-width="1.8" fill="none"/>
<text transform="translate(951.01,99.90) scale(1.0232,1)" font-size="43.7">Least</text>
<text transform="translate(1073.82,99.90) scale(1.0677,1)" font-size="43.7">dev.</text>
<path d="M1204.31,71.01V77.38H1211.89V80.24H1204.31V92.41Q1204.31,95.16 1205.06,95.94Q1205.81,96.72 1208.11,96.72H1211.89V99.80H1208.11Q1203.85,99.80 1202.23,98.21Q1200.60,96.62 1200.60,92.41V80.24H1197.90V77.38H1200.60V71.01Z" fill="#000"/>
<text transform="translate(1228.16,99.90) scale(1.2220,1)" font-size="43.7">±</text>
<path d="M1264.98,96.30L1271.59,96.30L1271.59,73.49L1264.40,74.94L1264.40,71.25L1271.55,69.81L1275.60,69.81L1275.60,96.30L1282.20,96.30L1282.20,99.70L1264.98,99.70Z" fill="#000"/>
<text transform="translate(1286.94,99.90) scale(1.0040,1)" font-size="43.7">0%</text>
<text transform="translate(950.61,159.90) scale(1.0232,1)" font-size="43.7">Least</text>
<text transform="translate(1074.16,159.90) scale(1.0302,1)" font-size="43.7">sq.</text>
<text transform="translate(1146.30,159.90) scale(1.0758,1)" font-size="43.7">dev.</text>
<path d="M1277.21,131.01V137.38H1284.79V140.24H1277.21V152.41Q1277.21,155.16 1277.96,155.94Q1278.71,156.72 1281.01,156.72H1284.79V159.80H1281.01Q1276.75,159.80 1275.13,158.21Q1273.50,156.62 1273.50,152.41V140.24H1270.80V137.38H1273.50V131.01Z" fill="#000"/>
<text transform="translate(952.25,219.50) scale(0.9401,1)" font-size="43.7">2MRS</text>
<text transform="translate(1080.16,219.50) scale(1.0428,1)" font-size="43.7">data</text>
</g>
</svg></body></html>
